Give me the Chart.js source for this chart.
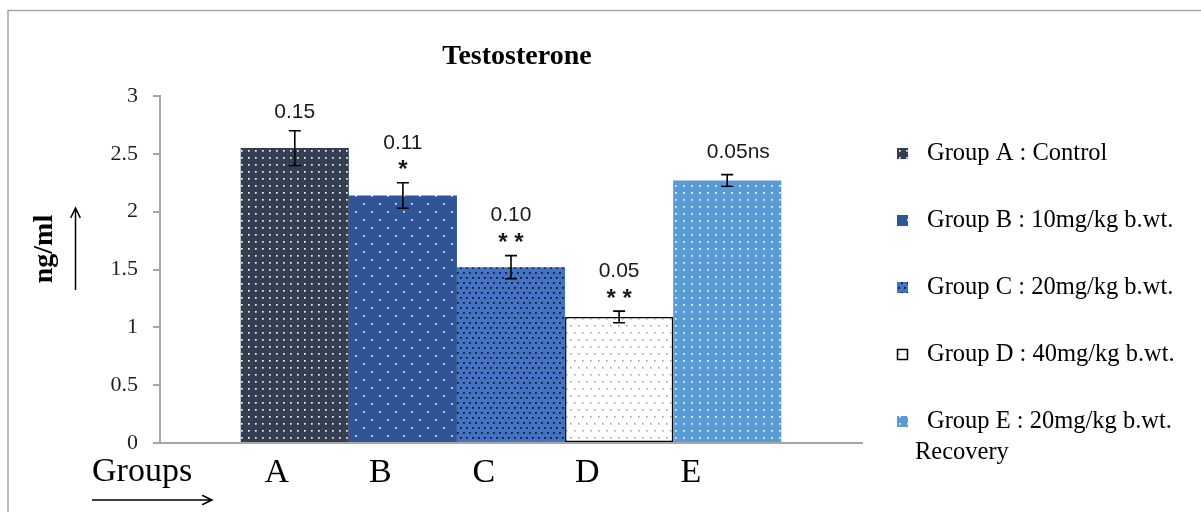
<!DOCTYPE html>
<html>
<head>
<meta charset="utf-8">
<script src="https://cdn.jsdelivr.net/npm/chart.js@4.4.1/dist/chart.umd.min.js"></script>
<style>
  html, body { margin: 0; padding: 0; background: #ffffff; }
  #wrap { position: relative; width: 1201px; height: 512px; overflow: hidden; }
  canvas { display: block; }
</style>
</head>
<body>
<div id="wrap"><canvas id="c" width="1201" height="512"></canvas></div>
<script>
// ---- data ----
const groups = ['A', 'B', 'C', 'D', 'E'];
const legendLabels = [
  'Group A : Control',
  'Group B : 10mg/kg b.wt.',
  'Group C : 20mg/kg b.wt.',
  'Group D : 40mg/kg b.wt.',
  'Group E : 20mg/kg b.wt.'
];
const legendSecondLine = ['', '', '', '', 'Recovery'];
const testosterone = [2.55, 2.14, 1.52, 1.09, 2.27];   // ng/ml
const sem = [0.15, 0.11, 0.10, 0.05, 0.05];
const significance = ['', '*', '**', '**', 'ns'];
const yTicks = [0, 0.5, 1, 1.5, 2, 2.5, 3];

// ---- dotted fills ----
const canvas = document.getElementById('c');
const ctx0 = canvas.getContext('2d');
function dotPattern(bg, dot, w, h, pts, r) {
  const c = document.createElement('canvas');
  c.width = w; c.height = h;
  const g = c.getContext('2d');
  g.fillStyle = bg; g.fillRect(0, 0, w, h);
  g.fillStyle = dot;
  pts.forEach(([x, y]) => g.fillRect(x, y, r, r));
  return ctx0.createPattern(c, 'repeat');
}
const fills = [
  dotPattern('#333f50', '#f0f3f8', 7, 7, [[3, 3]], 1.7),
  dotPattern('#2f5597', '#eef2fa', 16, 16, [[3, 3], [11, 11]], 1.7),
  dotPattern('#4472c4', '#111827', 6, 10, [[1, 2], [4, 7]], 1.8),
  dotPattern('#ffffff', '#9aa6c4', 8, 14, [[2, 3], [6, 10]], 1.6),
  dotPattern('#5b9bd5', '#f2f7fd', 8, 7, [[3, 3]], 1.7)
];
const borders = ['#333f50', '#2f5597', '#4472c4', '#000000', '#5b9bd5'];
const borderWidths = [0, 0, 0, 1.5, 0];

const datasets = groups.map((g, i) => ({
  label: legendLabels[i],
  data: [testosterone[i]],
  backgroundColor: fills[i],
  borderColor: borders[i],
  borderWidth: borderWidths[i],
  borderSkipped: false
}));

function arrow(ctx, x1, y1, x2, y2) {
  ctx.beginPath();
  ctx.moveTo(x1, y1); ctx.lineTo(x2, y2);
  const a = Math.atan2(y2 - y1, x2 - x1);
  const L = 11, s = 0.45;
  ctx.moveTo(x2 - L * Math.cos(a - s), y2 - L * Math.sin(a - s));
  ctx.lineTo(x2, y2);
  ctx.lineTo(x2 - L * Math.cos(a + s), y2 - L * Math.sin(a + s));
  ctx.stroke();
}

const decor = {
  id: 'decor',
  beforeDraw(chart) {
    const ctx = chart.ctx;
    ctx.save();
    ctx.fillStyle = '#ffffff';
    ctx.fillRect(0, 0, chart.width, chart.height);
    ctx.strokeStyle = '#a6a6a6';
    ctx.lineWidth = 1.5;
    ctx.strokeRect(8, 10.5, 1400, 700);
    ctx.restore();
  },
  afterDraw(chart) {
    const ctx = chart.ctx;
    const y = chart.scales.y;
    ctx.save();

    // title
    ctx.fillStyle = '#000000';
    ctx.textAlign = 'center';
    ctx.textBaseline = 'middle';
    ctx.font = 'bold 28px "Liberation Serif"';
    ctx.fillText('Testosterone', 517, 57);

    // y axis title with arrow
    ctx.save();
    ctx.translate(45, 249);
    ctx.rotate(-Math.PI / 2);
    ctx.font = 'bold 28px "Liberation Serif"';
    ctx.fillText('ng/ml', 0, 0);
    ctx.restore();
    ctx.strokeStyle = '#000000';
    ctx.lineWidth = 1.5;
    arrow(ctx, 75.5, 290, 75.5, 208);

    // x axis caption with arrow
    ctx.textAlign = 'left';
    ctx.font = '34px "Liberation Serif"';
    ctx.fillText('Groups', 92, 472);
    arrow(ctx, 92, 500, 212, 500);

    // group letters under the bars
    const first = chart.getDatasetMeta(0).data[0];
    ctx.textAlign = 'center';
    groups.forEach((g, i) => {
      ctx.fillText(g, first.x - 18 + i * 103.5, 473);
    });

    // error bars and labels
    groups.forEach((g, i) => {
      const bar = chart.getDatasetMeta(i).data[0];
      const v = testosterone[i];
      const top = y.getPixelForValue(v + sem[i]);
      const bot = y.getPixelForValue(v - sem[i]);
      ctx.strokeStyle = '#000000';
      ctx.lineWidth = 1.6;
      ctx.beginPath();
      ctx.moveTo(bar.x, top); ctx.lineTo(bar.x, bot);
      ctx.moveTo(bar.x - 6, top); ctx.lineTo(bar.x + 6, top);
      ctx.moveTo(bar.x - 6, bot); ctx.lineTo(bar.x + 6, bot);
      ctx.stroke();

      ctx.fillStyle = '#1a1a1a';
      ctx.textBaseline = 'middle';
      ctx.font = '21px "Liberation Sans"';
      const txt = sem[i].toFixed(2);
      const sig = significance[i];
      if (sig === 'ns') {
        ctx.textAlign = 'center';
        const yy = top - 22;
        ctx.fillText(txt, bar.x, yy);
        ctx.textAlign = 'left';
        ctx.fillText(sig, bar.x + ctx.measureText(txt).width / 2, yy);
      } else if (sig) {
        ctx.textAlign = 'center';
        ctx.fillText(txt, bar.x, top - 40);
        ctx.font = 'bold 24px "Liberation Sans"';
        const n = sig.length;
        for (let k = 0; k < n; k++) {
          ctx.fillText('*', bar.x + (k - (n - 1) / 2) * 16, top - 12);
        }
      } else {
        ctx.textAlign = 'center';
        ctx.fillText(txt, bar.x, top - 18);
      }
    });

    // legend
    ctx.textAlign = 'left';
    ctx.textBaseline = 'middle';
    ctx.font = '24.5px "Liberation Serif"';
    legendLabels.forEach((lab, i) => {
      const cy = 154 + i * 67;
      ctx.fillStyle = fills[i];
      ctx.fillRect(897, cy - 6, 11, 11);
      if (borderWidths[i]) {
        ctx.strokeStyle = '#000000';
        ctx.lineWidth = 1.5;
        ctx.strokeRect(897.5, cy - 5.5, 10, 10);
      }
      ctx.fillStyle = '#000000';
      ctx.fillText(lab, 927, cy);
      if (legendSecondLine[i]) ctx.fillText(legendSecondLine[i], 915, cy + 31);
    });
    ctx.restore();
  }
};

new Chart(canvas, {
  type: 'bar',
  data: { labels: [''], datasets },
  plugins: [decor],
  options: {
    responsive: false,
    animation: false,
    devicePixelRatio: 1,
    layout: { padding: { left: 100, right: 339, top: 96, bottom: 69 } },
    plugins: { legend: { display: false }, tooltip: { enabled: false } },
    datasets: { bar: { categoryPercentage: 0.77, barPercentage: 1 } },
    scales: {
      x: {
        ticks: { display: false },
        grid: { display: false, drawTicks: false },
        border: { color: '#a6a6a6', width: 2 },
        afterFit(s) { s.height = 0; }
      },
      y: {
        min: 0, max: 3,
        afterBuildTicks(s) { s.ticks = yTicks.map(v => ({ value: v })); },
        ticks: {
          font: { family: 'Liberation Serif', size: 22 },
          color: '#1f1f1f',
          padding: 15,
          callback: (v) => String(v)
        },
        grid: { drawOnChartArea: false, tickLength: 7, color: '#a6a6a6', lineWidth: 2 },
        border: { color: '#a6a6a6', width: 2 },
        afterFit(s) { s.width = 60; }
      }
    }
  }
});
</script>
</body>
</html>
